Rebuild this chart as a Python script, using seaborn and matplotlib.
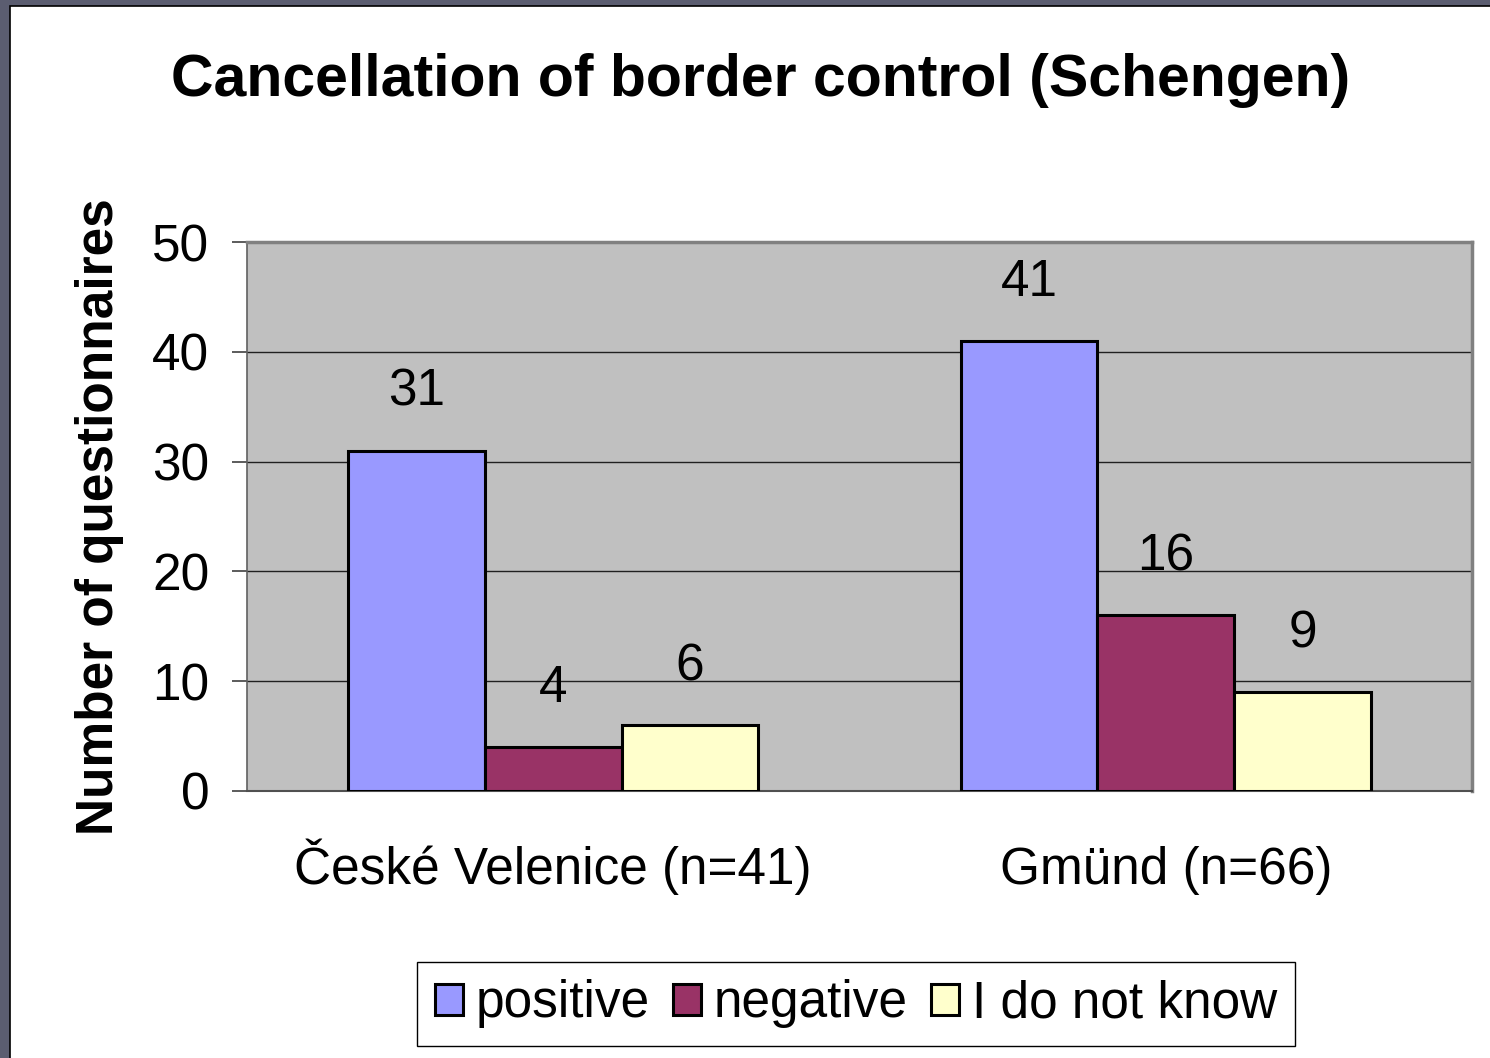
import matplotlib
matplotlib.use("Agg")
import matplotlib.pyplot as plt
import matplotlib.patches as mpatches
import pandas as pd
import seaborn as sns

sites = ['České Velenice (n=41)', 'Gmünd (n=66)']
responses = ['positive', 'negative', 'I do not know']
positive = [31, 41]
negative = [4, 16]
dont_know = [6, 9]
colors = ['#9999FF', '#993366', '#FFFFCC']

rows = []
for i, s in enumerate(sites):
    for r, vals in zip(responses, [positive, negative, dont_know]):
        rows.append({'site': s, 'response': r, 'count': vals[i]})
data = pd.DataFrame(rows)

sns.set_style("white")
plt.rcParams['font.family'] = ['Liberation Sans', 'DejaVu Sans']
plt.rcParams['text.color'] = 'black'
plt.rcParams['axes.labelcolor'] = 'black'
plt.rcParams['xtick.color'] = 'black'
plt.rcParams['ytick.color'] = 'black'

fs = 37

fig = plt.figure(figsize=(14.9, 10.58), dpi=100, facecolor='#5B5D70')
# white slide area with the dark frame at left/top
fig.patches.append(mpatches.Rectangle((9.5 / 1490, -0.01), 1.0, 1.01 - 6 / 1058,
                                      transform=fig.transFigure, facecolor='white',
                                      edgecolor='black', linewidth=1.2, zorder=-10))

ax = fig.add_axes([247 / 1490, 1 - 791 / 1058, (1472 - 247) / 1490, (791 - 242) / 1058])
ax.set_facecolor('#C0C0C0')

sns.barplot(data=data, x='site', y='count', hue='response', hue_order=responses,
            palette=colors, saturation=1, width=0.67, edgecolor='black',
            linewidth=2.2, ax=ax, zorder=3)

ax.set_ylim(0, 50)
ax.set_xlim(-0.5, 1.5)
ax.set_yticks(range(0, 51, 10))
ax.yaxis.grid(True, color='#202020', linewidth=1.0, zorder=0)
ax.set_axisbelow(True)

for c in ax.containers:
    for bar in c:
        h = bar.get_height()
        ax.annotate(f"{int(h)}", (bar.get_x() + bar.get_width() / 2, h),
                    xytext=(0, 42), textcoords='offset points',
                    ha='center', va='center', fontsize=fs, color='black')

ax.set_xticks([0, 1])
ax.set_xticklabels(sites, fontsize=fs)
for t in ax.get_xticklabels():
    t.set_verticalalignment('baseline')
ax.set_xticks([-0.5, 0.5, 1.5], minor=True)
ax.tick_params(axis='x', which='major', length=0, pad=67, colors='black')
ax.tick_params(axis='x', which='minor', length=11, width=1.2, color='#606060', direction='out')
ax.tick_params(axis='y', length=11, width=1.2, color='#404040', labelcolor='black',
               direction='out', labelsize=fs, pad=16, left=True)

for side in ['top', 'right']:
    ax.spines[side].set_color('#808080')
    ax.spines[side].set_linewidth(2.5)
ax.spines['left'].set_color('#606060')
ax.spines['left'].set_linewidth(1.2)
ax.spines['bottom'].set_color('#505050')
ax.spines['bottom'].set_linewidth(1.5)

ax.set_xlabel('')
ax.set_ylabel('Number of questionnaires', fontsize=fs, fontweight='bold', labelpad=20,
              color='black')

fig.text(761 / 1490, 1 - 80 / 1058, 'Cancellation of border control (Schengen)',
         ha='center', va='center', fontsize=42.5, fontweight='bold', color='black')

handles, labels = ax.get_legend_handles_labels()
for h in handles:
    h.set_edgecolor('black')
    h.set_linewidth(2.2)
leg = ax.legend(handles, labels, ncol=3, loc='center', bbox_to_anchor=(856 / 1490, 1 - 1004 / 1058),
                bbox_transform=fig.transFigure, fontsize=fs, frameon=True, fancybox=False,
                edgecolor='black', framealpha=1, handlelength=0.55, handleheight=0.55,
                handletextpad=0.25, columnspacing=0.45, borderpad=0.35, borderaxespad=0)
leg.get_frame().set_linewidth(1.0)
for t in leg.get_texts():
    t.set_color('black')

fig.savefig('out.png', dpi=100, facecolor=fig.get_facecolor())
